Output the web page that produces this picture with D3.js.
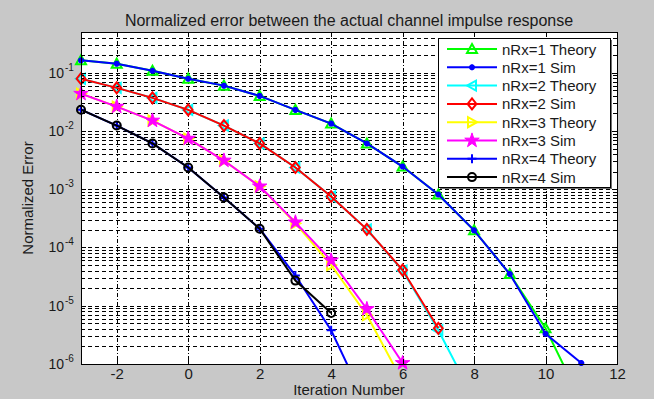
<!DOCTYPE html>
<html>
<head>
<meta charset="utf-8">
<script src="https://cdn.jsdelivr.net/npm/d3@7"></script>
<style>
  body { margin: 0; background: #c8c8c8; }
  text { font-family: Arial, "Liberation Sans", Helvetica, sans-serif; fill: #1a1a1a; }
</style>
</head>
<body>
<svg id="chart" width="654" height="399"></svg>
<script>
// Iteration numbers (x values), every series starts at -3
const iterations = [-3, -2, -1, 0, 1, 2, 3, 4, 5, 6, 7, 8, 9, 10, 11];
const xTicks = [-2, 0, 2, 4, 6, 8, 10, 12];
const yDecades = [1e-6, 1e-5, 1e-4, 1e-3, 1e-2, 1e-1];
const yExponents = ["-6", "-5", "-4", "-3", "-2", "-1"];

// normalized error (last points fall below the axis)
const nRx1Theory = [0.163, 0.143, 0.108, 0.079, 0.060, 0.040, 0.023, 0.0134, 0.0061, 0.00245, 8.1e-4, 1.97e-4, 3.5e-5, 4.1e-6, 2.3e-7];
const nRx1Sim    = [0.163, 0.143, 0.108, 0.079, 0.060, 0.040, 0.023, 0.0134, 0.0061, 0.00245, 8.1e-4, 1.97e-4, 3.5e-5, 3.3e-6, 1.04e-6];
const nRx2Theory = [0.079, 0.055, 0.037, 0.023, 0.0124, 0.0061, 0.00236, 7.5e-4, 2.05e-4, 4.0e-5, 3.8e-6, 2.5e-7];
const nRx2Sim    = [0.079, 0.055, 0.037, 0.023, 0.0124, 0.0061, 0.00236, 7.5e-4, 2.05e-4, 4.1e-5, 4.1e-6];
const nRx3Theory = [0.0436, 0.0262, 0.0151, 0.0074, 0.00311, 0.00112, 2.6e-4, 5.0e-5, 6.9e-6, 5e-7];
const nRx3Sim    = [0.0436, 0.0262, 0.0151, 0.0074, 0.00311, 0.00112, 2.7e-4, 6.0e-5, 8.8e-6, 1.04e-6];
const nRx4Theory = [0.0232, 0.0124, 0.0061, 0.00236, 7.2e-4, 2.1e-4, 3.3e-5, 3.8e-6, 1.9e-7];
const nRx4Sim    = [0.0232, 0.0124, 0.0061, 0.00236, 7.2e-4, 2.1e-4, 2.7e-5, 7.5e-6];

const seriesNames = ["nRx=1 Theory", "nRx=1 Sim", "nRx=2 Theory", "nRx=2 Sim",
                     "nRx=3 Theory", "nRx=3 Sim", "nRx=4 Theory", "nRx=4 Sim"];
const seriesValues = [nRx1Theory, nRx1Sim, nRx2Theory, nRx2Sim, nRx3Theory, nRx3Sim, nRx4Theory, nRx4Sim];
const seriesColors = ["#00ff00", "#0000ff", "#00ffff", "#ff0000", "#ffff00", "#ff00ff", "#0000ff", "#000000"];
const seriesMarkers = ["triUp", "asterisk", "triLeft", "diamond", "triRight", "star", "plus", "circle"];

const series = seriesNames.map((name, i) => ({
    name: name,
    color: seriesColors[i],
    marker: seriesMarkers[i],
    points: seriesValues[i].map((v, j) => ({x: iterations[j], y: v}))
}));

const plot = {left: 81, right: 617, top: 32, bottom: 364};
const svg = d3.select("#chart");

svg.append("rect").attr("width", 654).attr("height", 399).attr("fill", "#c8c8c8");

const xScale = d3.scaleLinear().domain([-3, 12]).range([plot.left, plot.right]);
const yScale = d3.scaleLog().domain([1e-6, 0.5]).range([plot.bottom, plot.top]);

svg.append("rect")
    .attr("x", plot.left).attr("y", plot.top)
    .attr("width", plot.right - plot.left).attr("height", plot.bottom - plot.top)
    .attr("fill", "white");

// minor + major horizontal grid values
let yGrid = [];
for (let k = -6; k <= -1; k++) {
    for (let m = 1; m <= 9; m++) {
        let v = m * Math.pow(10, k);
        if (v <= 0.5 + 1e-9) yGrid.push(v);
    }
}

let grid = svg.append("g").attr("id", "grid").attr("shape-rendering", "crispEdges");
grid.selectAll(".hgrid")
    .data(yGrid.filter(v => v > 1e-6 && v < 0.5))
    .enter()
    .append("line")
        .attr("x1", plot.left).attr("x2", plot.right)
        .attr("y1", d => Math.round(yScale(d)) + 0.5)
        .attr("y2", d => Math.round(yScale(d)) + 0.5)
        .attr("stroke", "#000")
        .attr("stroke-dasharray", "4,3");

grid.selectAll(".vgrid")
    .data(xTicks.filter(d => d < 12))
    .enter()
    .append("line")
        .attr("y1", plot.top).attr("y2", plot.bottom)
        .attr("x1", d => Math.round(xScale(d)) + 0.5)
        .attr("x2", d => Math.round(xScale(d)) + 0.5)
        .attr("stroke", "#000")
        .attr("stroke-dasharray", "4,2,1,2");

// data lines, clipped to the axes box
svg.append("clipPath").attr("id", "plotClip")
    .append("rect")
    .attr("x", plot.left).attr("y", plot.top)
    .attr("width", plot.right - plot.left).attr("height", plot.bottom - plot.top);

const line = d3.line().x(d => xScale(d.x)).y(d => yScale(d.y));

function markerPath(type, s) {
    let h = s / 2;
    switch (type) {
        case "triUp":
            return `M0,${-h}L${h},${h * 0.8}L${-h},${h * 0.8}Z`;
        case "triLeft":
            return `M${-h},0L${h * 0.8},${-h}L${h * 0.8},${h}Z`;
        case "triRight":
            return `M${h},0L${-h * 0.8},${-h}L${-h * 0.8},${h}Z`;
        case "diamond":
            return `M0,${-h}L${h * 0.8},0L0,${h}L${-h * 0.8},0Z`;
        case "plus":
            return `M${-h},0L${h},0M0,${-h}L0,${h}`;
        case "asterisk":
            return `M${-h},0L${h},0M0,${-h}L0,${h}M${-h * 0.7},${-h * 0.7}L${h * 0.7},${h * 0.7}M${-h * 0.7},${h * 0.7}L${h * 0.7},${-h * 0.7}`;
        case "circle":
            return `M${h},0A${h},${h} 0 1,1 ${-h},0A${h},${h} 0 1,1 ${h},0Z`;
        case "star":
            return d3.symbol().type(d3.symbolStar).size(s * s * 0.45)();
    }
}

const markerSize = {triUp: 10, triLeft: 10, triRight: 10, diamond: 11, plus: 9, asterisk: 6, circle: 8, star: 12};

function drawMarker(g, type, color, x, y) {
    g.append("path")
        .attr("d", markerPath(type, markerSize[type]))
        .attr("transform", `translate(${x},${y})`)
        .attr("fill", type == "star" ? color : "none")
        .attr("stroke", color)
        .attr("stroke-width", type == "star" ? 1 : 2)
        .attr("stroke-linejoin", "miter");
}

let dataG = svg.append("g").attr("id", "series");
series.forEach(s => {
    let g = dataG.append("g");
    g.append("path")
        .attr("clip-path", "url(#plotClip)")
        .attr("d", line(s.points))
        .attr("fill", "none")
        .attr("stroke", s.color)
        .attr("stroke-width", 2);
    s.points
        .filter(p => p.y >= 1e-6 && p.x <= 12)
        .forEach(p => drawMarker(g, s.marker, s.color, xScale(p.x), yScale(p.y)));
});

// axes box and inward ticks
let axes = svg.append("g").attr("id", "axes").attr("shape-rendering", "crispEdges");
axes.append("rect")
    .attr("x", plot.left + 0.5).attr("y", plot.top + 0.5)
    .attr("width", plot.right - plot.left).attr("height", plot.bottom - plot.top)
    .attr("fill", "none").attr("stroke", "#000");

let xAxis = d3.axisBottom(xScale).tickValues(xTicks).tickSize(-5).tickPadding(4)
    .tickFormat(d => String(d));
axes.append("g")
    .attr("id", "x-axis")
    .attr("transform", `translate(0,${plot.bottom})`)
    .call(xAxis)
    .call(g => g.select(".domain").remove())
    .call(g => g.selectAll("text").attr("font-size", 15).attr("fill", "#1a1a1a").attr("font-family", null));

axes.append("g")
    .attr("transform", `translate(0,${plot.top})`)
    .call(d3.axisTop(xScale).tickValues(xTicks).tickSize(-5).tickFormat(""))
    .call(g => g.select(".domain").remove());

yGrid.forEach(v => {
    let major = yDecades.includes(v);
    let len = major ? 5 : 3;
    let yy = Math.round(yScale(v)) + 0.5;
    axes.append("line").attr("x1", plot.left).attr("x2", plot.left + len)
        .attr("y1", yy).attr("y2", yy).attr("stroke", "#000");
    axes.append("line").attr("x1", plot.right - len).attr("x2", plot.right)
        .attr("y1", yy).attr("y2", yy).attr("stroke", "#000");
});

// y tick labels like 10^-3
yDecades.forEach((v, i) => {
    svg.append("text")
        .attr("x", 64).attr("y", yScale(v) + 5)
        .attr("text-anchor", "end")
        .attr("font-size", 14)
        .text("10");
    svg.append("text")
        .attr("x", 65).attr("y", yScale(v) - 2)
        .attr("font-size", 10)
        .text(yExponents[i]);
});

// titles
svg.append("text")
    .attr("x", (plot.left + plot.right) / 2).attr("y", 26)
    .attr("text-anchor", "middle")
    .attr("font-size", 16)
    .text("Normalized error between the actual channel impulse response");

svg.append("text")
    .attr("x", (plot.left + plot.right) / 2).attr("y", 395)
    .attr("text-anchor", "middle")
    .attr("font-size", 15)
    .text("Iteration Number");

svg.append("text")
    .attr("transform", `translate(33,${(plot.top + plot.bottom) / 2}) rotate(-90)`)
    .attr("text-anchor", "middle")
    .attr("font-size", 15)
    .text("Normalized Error");

// legend
let legend = svg.append("g").attr("id", "legend");
let lx = 438, ly = 38, lw = 172, lh = 149;
legend.append("rect")
    .attr("x", lx + 2).attr("y", ly + 2).attr("width", lw).attr("height", lh)
    .attr("fill", "#707070");
legend.append("rect")
    .attr("x", lx + 0.5).attr("y", ly + 0.5).attr("width", lw).attr("height", lh)
    .attr("fill", "white").attr("stroke", "#000").attr("shape-rendering", "crispEdges");

series.forEach((s, i) => {
    let y = 49 + i * 18.3;
    let g = legend.append("g");
    g.append("line")
        .attr("x1", 447).attr("x2", 497).attr("y1", y).attr("y2", y)
        .attr("stroke", s.color).attr("stroke-width", 2);
    drawMarker(g, s.marker, s.color, 472, y);
    g.append("text")
        .attr("x", 502).attr("y", y + 5.5)
        .attr("font-size", 15)
        .text(s.name);
});
</script>
</body>
</html>
